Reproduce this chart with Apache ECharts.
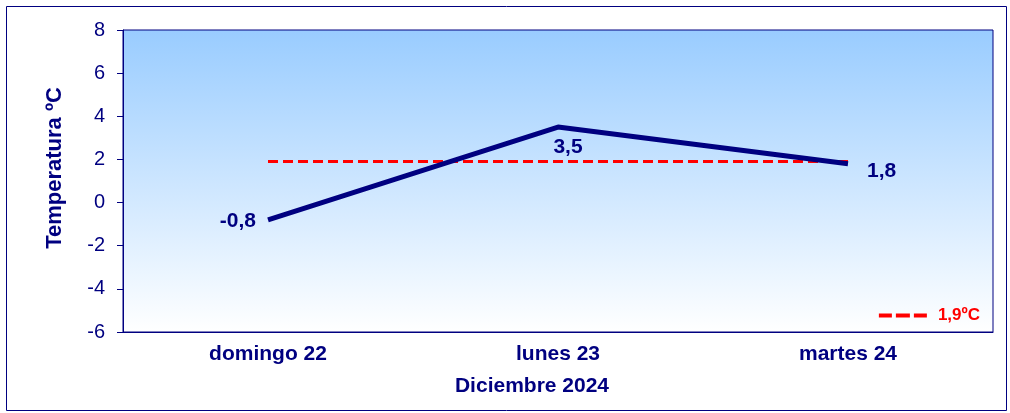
<!DOCTYPE html>
<html><head><meta charset="utf-8">
<script src="https://cdn.jsdelivr.net/npm/echarts@6/dist/echarts.min.js"></script>
<style>html,body{margin:0;padding:0;background:#fff}#c{width:1010px;height:413px}</style>
</head><body><div id="c"></div>
<script>
const categories = ['domingo 22', 'lunes 23', 'martes 24'];
const temps = [-0.8, 3.5, 1.8];
const meanValue = 1.9;
const meanSeries = categories.map(() => meanValue);
const meanName = '1,9ºC';
const labelPos = ['left', 'bottom', 'right'];
const labelDist = [12, 8, 19];
const labelOffset = [[0, 1], [10, 2], [0, 7]];

const navy = '#000080';
const font = 'Arial, Liberation Sans';
const chart = echarts.init(document.getElementById('c'));
chart.setOption({
  animation: false,
  graphic: [{
    type: 'rect', shape: {x: 6.5, y: 6.5, width: 1000, height: 404},
    style: {fill: 'none', stroke: navy, lineWidth: 1}, z: -10
  }],
  grid: {
    left: 123, top: 30, right: 17, bottom: 81, show: true,
    borderColor: navy, borderWidth: 1,
    backgroundColor: new echarts.graphic.LinearGradient(0, 0, 0, 1, [
      {offset: 0, color: '#99CCFF'}, {offset: 1, color: '#FFFFFF'}
    ])
  },
  legend: {
    data: [{name: meanName, icon: 'path://M0,0h13v4h-13zM17,0h14v4h-14zM35,0h13v4h-13z'}],
    right: 25, top: 302, itemWidth: 48, itemHeight: 4,
    itemStyle: {color: '#FF0000'},
    textStyle: {color: '#FF0000', fontWeight: 'bold', fontSize: 17, fontFamily: font, padding: [0, 0, 0, 6]},
    itemGap: 10
  },
  xAxis: {
    type: 'category', data: categories, boundaryGap: true,
    name: 'Diciembre 2024', nameLocation: 'middle', nameGap: 44,
    nameTextStyle: {color: navy, fontWeight: 'bold', fontSize: 21, fontFamily: font, padding: [0, 52, 0, 0]},
    axisLine: {onZero: false, lineStyle: {color: navy, width: 1}},
    axisTick: {show: false},
    axisLabel: {color: navy, fontWeight: 'bold', fontSize: 21, margin: 12, fontFamily: font}
  },
  yAxis: {
    type: 'value', min: -6, max: 8, interval: 2,
    name: 'Temperatura ºC', nameLocation: 'middle', nameGap: 57,
    nameTextStyle: {color: navy, fontWeight: 'bold', fontSize: 22, fontFamily: font, padding: [0, 0, 0, 26]},
    axisLine: {show: true, lineStyle: {color: navy, width: 1}},
    axisTick: {show: true, length: 6, lineStyle: {color: navy}},
    splitLine: {show: false},
    axisLabel: {color: navy, fontSize: 20, margin: 18, fontFamily: font}
  },
  series: [{
    name: meanName, type: 'line', data: meanSeries, showSymbol: false, symbol: 'none',
    lineStyle: {color: '#FF0000', width: 3, type: [10, 5]},
    itemStyle: {color: '#FF0000'}, z: 2
  }, {
    name: 'Temperatura', type: 'line', symbol: 'circle', symbolSize: 0.1, showSymbol: true,
    data: temps.map((v, i) => ({value: v, label: {position: labelPos[i], distance: labelDist[i], offset: labelOffset[i]}})),
    lineStyle: {color: navy, width: 5},
    itemStyle: {color: navy},
    label: {show: true, color: navy, fontWeight: 'bold', fontSize: 21, fontFamily: font,
      formatter: p => String(p.value).replace('.', ',')},
    z: 3
  }]
});
</script></body></html>
